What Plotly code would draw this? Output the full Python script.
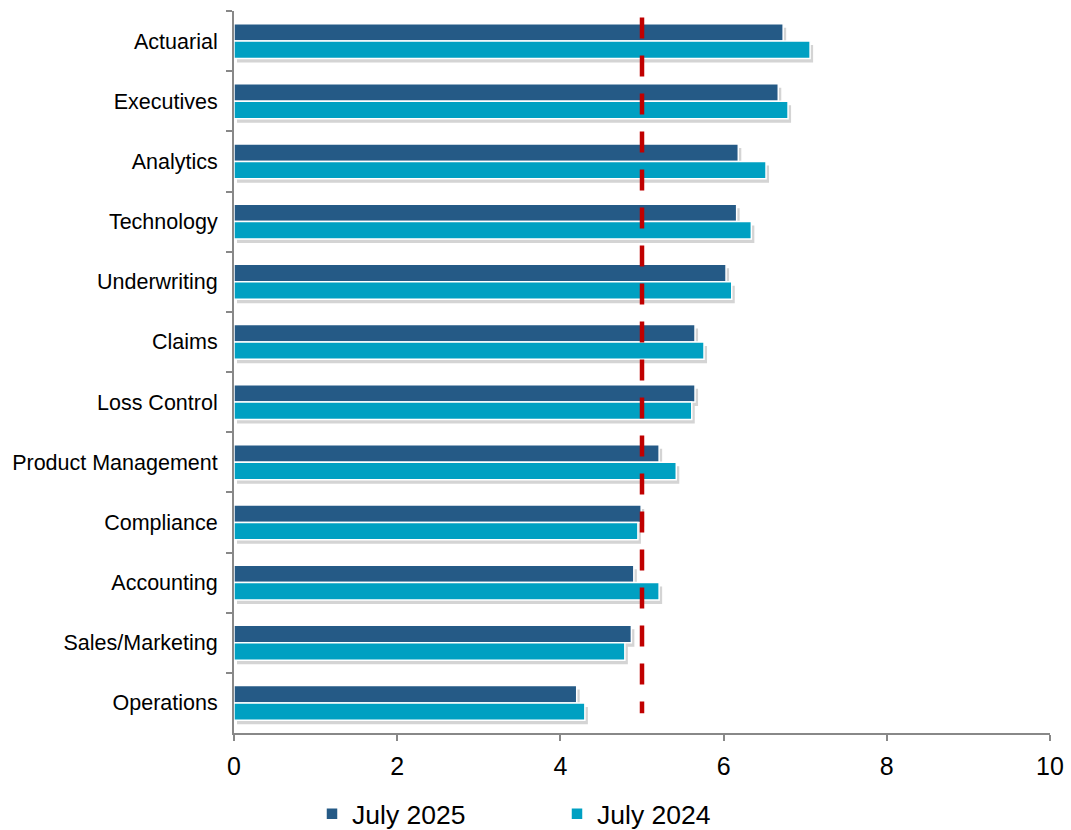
import plotly.graph_objects as go

# Average scores by department, two survey periods
departments = ["Actuarial", "Executives", "Analytics", "Technology", "Underwriting",
               "Claims", "Loss Control", "Product Management", "Compliance",
               "Accounting", "Sales/Marketing", "Operations"]
july_2025 = [6.73, 6.67, 6.18, 6.16, 6.03, 5.65, 5.65, 5.21, 4.99, 4.90, 4.87, 4.20]
july_2024 = [7.06, 6.79, 6.52, 6.34, 6.10, 5.76, 5.61, 5.42, 4.95, 5.21, 4.79, 4.30]
reference_level = 5

x_ticks = [0, 2, 4, 6, 8, 10]

DARK = "#255A86"
TEAL = "#00A0C2"
SHADOW = "rgba(60,60,60,0.22)"
FONT = "Liberation Sans, Arial, sans-serif"

W, H = 1071, 830
m_l, m_r, m_t, m_b = 234, 21, 11, 97
pw, ph = W - m_l - m_r, H - m_t - m_b
dx, dy = 3 / pw, 4 / ph  # shadow offset in paper units
n = len(departments)

fig = go.Figure()

# soft drop shadow drawn behind the bars (offset subplot, same scale)
for vals in (july_2025, july_2024):
    fig.add_trace(go.Bar(
        y=departments, x=vals, orientation="h",
        marker=dict(color=SHADOW, line=dict(width=0)),
        showlegend=False, hoverinfo="skip",
        xaxis="x", yaxis="y",
    ))

fig.add_trace(go.Bar(
    y=departments, x=july_2025, orientation="h", name="July 2025",
    marker=dict(color=DARK, line=dict(color="white", width=1.5)),
    xaxis="x2", yaxis="y2",
))
fig.add_trace(go.Bar(
    y=departments, x=july_2024, orientation="h", name="July 2024",
    marker=dict(color=TEAL, line=dict(color="white", width=1.5)),
    xaxis="x2", yaxis="y2",
))

# red dashed reference line at 5
fig.add_trace(go.Scatter(
    x=[reference_level, reference_level], y=[-0.39, 11.17],
    mode="lines", line=dict(color="#C00000", width=4.5, dash="21px,17px"),
    showlegend=False, hoverinfo="skip",
    xaxis="x2", yaxis="y3",
))

hidden = dict(visible=False, showgrid=False, zeroline=False, fixedrange=True)

fig.update_layout(
    width=W, height=H,
    margin=dict(l=m_l, r=m_r, t=m_t, b=m_b, autoexpand=False),
    paper_bgcolor="white", plot_bgcolor="rgba(0,0,0,0)",
    barmode="group", bargap=0.42, bargroupgap=0.0,
    font=dict(family=FONT, color="#000000"),
    xaxis=dict(domain=[dx, 1], range=[0, 10 * (1 - dx)], anchor="y", **hidden),
    yaxis=dict(domain=[0, 1 - dy], range=[n - 0.5 - n * dy, -0.5], type="category",
               categoryorder="array", categoryarray=departments, anchor="x", **hidden),
    xaxis2=dict(
        domain=[0, 1], range=[0, 10], anchor="y2",
        tickvals=x_ticks, ticktext=[str(v) for v in x_ticks],
        ticks="outside", ticklen=6, tickwidth=2, tickcolor="#888888",
        ticklabelstandoff=4,
        showline=True, linecolor="#888888", linewidth=2,
        showgrid=False, zeroline=False, automargin=False,
        tickfont=dict(size=25, family=FONT), fixedrange=True,
    ),
    yaxis2=dict(
        domain=[0, 1], anchor="x2", autorange="reversed", type="category",
        categoryorder="array", categoryarray=departments,
        ticks="outside", ticklen=6, tickwidth=2, tickcolor="#888888",
        tickson="boundaries", ticklabelstandoff=10, automargin=False,
        showline=True, linecolor="#888888", linewidth=2,
        showgrid=False, zeroline=False,
        tickfont=dict(size=21.5, family=FONT), fixedrange=True,
    ),
    yaxis3=dict(domain=[0, 1], range=[n - 0.5, -0.5], overlaying="y2",
                anchor="x2", **hidden),
    legend=dict(
        orientation="h", x=(326 - 14) / W, xref="container", xanchor="left",
        y=16 / H, yref="container", yanchor="middle",
        font=dict(size=26.5, family=FONT), entrywidth=200, entrywidthmode="pixels",
        traceorder="normal", bgcolor="rgba(0,0,0,0)",
    ),
    showlegend=True,
)

fig.write_html("out.html")
